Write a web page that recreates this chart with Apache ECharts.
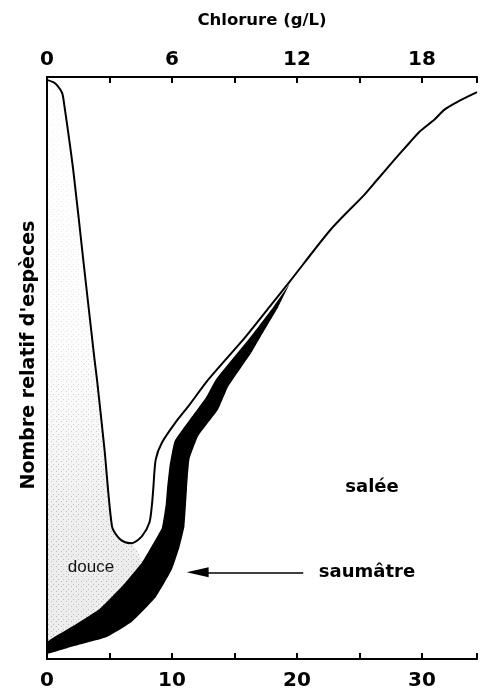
<!DOCTYPE html>
<html>
<head>
<meta charset="utf-8">
<title>Chlorure</title>
<script src="https://cdn.jsdelivr.net/npm/echarts@6/dist/echarts.min.js"></script>
<style>
  html, body { margin: 0; padding: 0; background: #fff; }
  #chart { width: 480px; height: 691px; }
</style>
</head>
<body>
<div id="chart"></div>
<script>
// x = salinité, y = nombre relatif d'espèces (0-100)
const outerLine = [[0, 99.5], [0.5, 99.1], [0.8, 98.6], [1.2, 97.3], [1.35, 95.7], [2.1, 84.0], [2.9, 68.6],
  [3.8, 51.5], [4.0, 48.0], [4.6, 36.0], [5.2, 22.8], [5.7, 20.9], [6.2, 20.1], [6.8, 19.9], [7.6, 21.1],
  [8.2, 23.5], [8.4, 26.6], [8.5, 29.2], [8.7, 34.3], [9.2, 37.2], [10.3, 40.7], [11.3, 43.4], [12.9, 48.0],
  [15.9, 55.4], [17.8, 60.5], [19.4, 64.8], [22.7, 73.8], [25.4, 79.8], [26.4, 82.3], [27.8, 85.8],
  [29.0, 88.7], [29.8, 90.6], [31.0, 92.7], [31.8, 94.4], [32.8, 95.7], [34.4, 97.4]];
// limite de la zone "douce" (pointillé)
const freshEdge = [[0, 99.5], [0.5, 99.1], [0.8, 98.6], [1.2, 97.3], [1.35, 95.7], [2.1, 84.0], [2.9, 68.6],
  [3.8, 51.5], [4.0, 48.0], [4.6, 36.0], [5.2, 22.8], [5.7, 20.9], [6.2, 20.1], [6.8, 19.9], [7.6, 16.6]];
// bande saumâtre (noire)
const brackishTop = [[0, 2.9], [2.1, 5.7], [4.2, 8.6], [6.0, 12.5], [7.6, 16.6], [8.7, 20.6], [9.2, 22.6],
  [9.5, 26.6], [9.6, 29.2], [9.8, 33.1], [10.2, 37.4], [11.3, 40.8], [12.7, 44.9], [13.5, 48.0],
  [16.3, 55.4], [18.1, 60.5], [19.4, 64.4]];
const brackishBottom = [[0, 0.9], [2.1, 2.2], [4.8, 3.8], [6.8, 6.4], [8.7, 10.6], [10.0, 15.4], [10.6, 19.2],
  [11.0, 22.8], [11.2, 29.2], [11.4, 34.3], [12.1, 38.3], [13.7, 42.9], [14.5, 46.8], [16.4, 52.8],
  [17.1, 55.4], [18.5, 60.5], [19.4, 64.4]];
const arrowFrom = [20.5, 14.9];
const arrowTo = [12.05, 14.9];
const salMax = 34.4;
const chlRatio = 0.6;

// polygones
const bandPoly = brackishTop.concat(brackishBottom.slice(0, -1).reverse());
const freshPoly = freshEdge.concat(
  brackishTop.filter(p => p[0] < freshEdge[freshEdge.length - 1][0]).reverse()
);

// petite trame pointillée
const dots = document.createElement('canvas');
dots.width = 5; dots.height = 5;
const dctx = dots.getContext('2d');
dctx.fillStyle = 'rgba(110,110,110,0.4)';
dctx.fillRect(1, 1, 1, 1);
dctx.fillRect(3, 4, 1, 1);

function polySeries(name, pts, z, smooth, fills) {
  return {
    name, type: 'custom', data: pts, z, silent: true,
    renderItem(params, api) {
      if (params.dataIndex !== 0) return null;
      const coords = pts.map(p => api.coord(p));
      const xs = coords.map(c => c[0]), ys = coords.map(c => c[1]);
      const bounds = [[Math.min(...xs), Math.min(...ys)], [Math.max(...xs), Math.max(...ys)]];
      return {
        type: 'group',
        children: fills.map(f => ({
          type: 'polygon',
          shape: { points: coords, smooth: smooth, smoothConstraint: bounds },
          style: { fill: f, stroke: null }
        }))
      };
    }
  };
}

const heavy = '"DejaVu Sans"';
const chart = echarts.init(document.getElementById('chart'));

chart.setOption({
  animation: false,
  grid: { left: 47, right: 0, top: 77, bottom: 31 },
  xAxis: [
    {
      type: 'value', position: 'bottom', min: 0, max: salMax, interval: 5, z: 10,
      axisLine: { show: true, lineStyle: { color: '#000', width: 2 } },
      axisTick: { show: true, inside: true, length: 6, lineStyle: { color: '#000', width: 2 } },
      axisLabel: {
        formatter: v => (v % 10 === 0 ? String(v) : ''),
        margin: 12, color: '#000', fontFamily: heavy, fontWeight: 'bold', fontSize: 20
      },
      splitLine: { show: false }
    },
    {
      type: 'value', position: 'top', min: 0, max: salMax * chlRatio, interval: 3, z: 10,
      name: 'Chlorure (g/L)', nameLocation: 'middle', nameGap: 48,
      nameTextStyle: { color: '#000', fontFamily: heavy, fontWeight: 'bold', fontSize: 16.5 },
      axisLine: { show: true, lineStyle: { color: '#000', width: 2 } },
      axisTick: { show: true, inside: true, length: 6, lineStyle: { color: '#000', width: 2 } },
      axisLabel: {
        formatter: v => (v % 6 === 0 ? String(v) : ''),
        margin: 7, color: '#000', fontFamily: heavy, fontWeight: 'bold', fontSize: 20
      },
      splitLine: { show: false }
    }
  ],
  yAxis: {
    type: 'value', min: 0, max: 100, z: 10,
    name: "Nombre relatif d'espèces", nameLocation: 'middle', nameGap: 8, nameRotate: 90,
    nameTextStyle: { color: '#000', fontFamily: heavy, fontWeight: 'bold', fontSize: 19, padding: [0, 0, 0, 26] },
    axisLine: { show: true, lineStyle: { color: '#000', width: 2 } },
    axisTick: { show: false },
    axisLabel: { show: false },
    splitLine: { show: false }
  },
  series: [
    polySeries('douce', freshPoly, 1, 0.2, [
      new echarts.graphic.LinearGradient(0, 0, 0, 1, [
        { offset: 0, color: 'rgba(120,120,120,0.0)' },
        { offset: 0.5, color: 'rgba(120,120,120,0.04)' },
        { offset: 0.85, color: 'rgba(120,120,120,0.13)' },
        { offset: 1, color: 'rgba(120,120,120,0.13)' }
      ]),
      { image: dots, repeat: 'repeat' },
      new echarts.graphic.LinearGradient(0, 0, 0, 1, [
        { offset: 0, color: 'rgba(255,255,255,0.85)' },
        { offset: 0.45, color: 'rgba(255,255,255,0.55)' },
        { offset: 0.75, color: 'rgba(255,255,255,0)' },
        { offset: 1, color: 'rgba(255,255,255,0)' }
      ])
    ]),
    polySeries('saumâtre', bandPoly, 2, 0.12, ['#000']),
    {
      name: 'total', type: 'line', data: outerLine, showSymbol: false, smooth: 0.25, z: 4,
      lineStyle: { color: '#000', width: 2 },
      silent: true,
      markLine: {
        silent: true,
        symbol: ['none', 'triangle'],
        symbolSize: [10, 22],
        label: { show: false },
        lineStyle: { color: '#000', width: 1.6, type: 'solid' },
        data: [[{ coord: arrowFrom }, { coord: arrowTo }]]
      }
    }
  ],
  graphic: [
    { type: 'text', x: 91, y: 567, style: { text: 'douce', fill: '#000', font: '17px "Liberation Sans"', align: 'center', verticalAlign: 'middle' } },
    { type: 'text', x: 372, y: 487, style: { text: 'salée', fill: '#000', font: 'bold 18px "DejaVu Sans"', align: 'center', verticalAlign: 'middle' } },
    { type: 'text', x: 367, y: 572, style: { text: 'saumâtre', fill: '#000', font: 'bold 18px "DejaVu Sans"', align: 'center', verticalAlign: 'middle' } }
  ]
});
</script>
</body>
</html>
